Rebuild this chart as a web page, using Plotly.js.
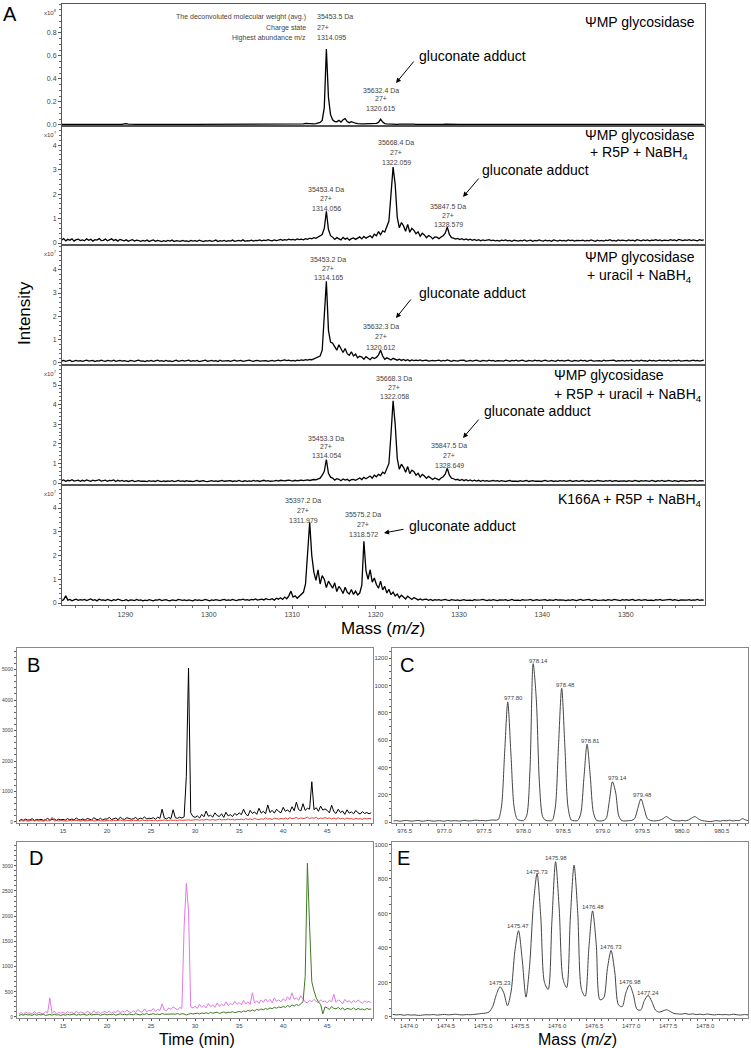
<!DOCTYPE html>
<html><head><meta charset="utf-8">
<script src="https://cdn.plot.ly/plotly-3.0.1.min.js"></script>
<style>html,body{margin:0;padding:0;background:#fff}#chart{width:751px;height:1048px}</style>
</head><body><div id="chart"></div>
<script>
// ---------- DATA ----------
// Panel A: ESI-MS spectra, m/z sampling grid
const massStartA = 1282.35, massStepA = 0.25;
// intensities in units of 1e5 counts
const specWT = [
5,6,4,5,7,5,4,6,5,4, 5,4,6,5,5,4,6,5,4,5, 6,5,4,5,6,5,5,4,6,5, 9,12,8,6,5,4,5,6,5,4,
5,6,4,5,5,6,4,5,6,5, 4,5,6,5,4,5,5,6,4,5, 5,4,6,5,5,4,5,6,5,4, 6,9,7,5,4,5,6,5,4,5,
5,6,4,5,6,5,4,5,6,5, 4,5,6,5,5,4,6,5,4,5, 5,6,5,4,6,5,5,6,7,6, 6,7,8,7,6,8,10,14,12,9,
8,10,12,16,22,40,150,660,240,90, 45,30,28,40,25,45,55,30,20,28, 18,15,12,14,10,9,10,8,9,8,
10,14,22,50,25,12,10,8,9,7, 8,6,7,9,6,8,7,5,6,7, 6,5,7,6,5,4,6,5,6,5, 5,6,4,5,7,6,5,4,6,5,
4,5,6,5,4,6,5,5,4,6, 5,7,6,5,4,5,6,5,4,5, 6,5,4,6,5,5,4,6,5,4, 5,6,5,4,6,7,5,4,5,6,
4,5,6,5,4,5,6,4,5,5, 6,5,4,5,6,5,5,4,6,5, 5,4,6,5,4,5,6,5,4,5, 4,6,5,5,4,6,5,4,5,6,
5,4,5,6,5,4,6,5,5,4, 6,5,4,5,6,5,4,6,5,5, 4,5,6,5,4,6,5,5,4,5, 5,6,4,5,5,6,4,5,5];
const specR5P = [
12,18,9,15,11,17,8,14,16,10, 13,9,17,11,15,8,14,12,18,10, 11,16,9,13,17,10,14,8,15,12, 9,13,7,11,14,8,12,10,7,11,
8,12,6,10,13,7,11,9,6,10, 7,11,8,12,6,10,9,7,11,8, 9,6,11,8,10,7,12,8,6,10, 8,11,7,9,12,6,10,8,11,7,
10,8,12,7,9,11,8,13,7,10, 9,12,8,11,10,13,9,12,10,14, 11,9,13,10,12,15,11,14,12,16, 13,15,12,17,14,16,13,18,15,20,
17,22,19,25,28,35,60,130,55,30, 24,15,22,19,13,23,16,20,12,18, 21,15,19,25,17,27,20,24,30,22,
36,30,47,34,50,45,64,90,200,310, 240,105,62,84,70,48,76,44,60,52, 38,46,28,40,33,22,31,26,17,25,
24,18,25,30,40,65,35,22,20,16, 19,14,18,13,17,12,16,11,15,10, 14,9,13,10,12,14,10,12,9,11,
8,12,10,13,9,11,7,12,10,8, 11,9,13,8,10,12,7,11,9,13, 10,8,12,9,11,7,13,10,8,12, 9,11,8,13,10,12,8,11,9,10,
12,8,11,9,13,10,7,12,9,11, 8,12,10,14,9,11,8,13,10,12, 11,9,13,10,12,8,14,11,9,13, 10,13,9,12,11,14,10,13,9,12,
12,10,14,11,13,9,15,12,10,13, 11,14,10,13,12,9,14,11,13];
const specUracil = [
8,11,7,10,12,6,9,11,8,10, 7,10,12,8,9,11,6,10,8,12, 9,7,11,10,8,12,7,9,11,8, 10,8,6,11,9,7,10,12,8,9,
6,10,8,11,7,9,12,8,10,7, 11,8,9,6,10,12,7,9,11,8, 9,12,7,10,8,11,6,9,10,12, 7,9,11,8,10,6,12,8,9,11,
10,7,9,12,8,10,11,7,9,8, 12,9,7,10,11,8,9,12,10,7, 9,11,8,10,12,9,11,13,10,12, 9,11,8,12,10,13,11,14,12,15,
14,18,20,25,30,55,200,350,140,90, 85,70,55,78,60,45,62,40,33,48, 30,38,22,29,25,16,27,21,14,24,
19,24,35,55,30,16,22,18,13,20, 17,12,16,11,15,10,14,9,13,10, 12,10,13,9,11,12,8,10,11,9,
10,12,8,11,9,13,10,7,11,9, 8,11,10,12,7,9,11,8,10,12, 9,7,11,10,8,12,9,11,7,10,
11,9,8,12,10,7,11,9,12,8, 10,12,9,7,11,10,8,12,9,11, 7,10,12,9,8,11,10,7,12,9, 11,8,10,12,9,7,11,10,8,12,
9,11,7,10,12,8,9,11,10,7, 12,9,10,8,11,12,7,10,9,11, 8,11,9,12,7,10,11,8,12,9, 10,7,12,9,11,8,10,12,9,11,
9,12,8,10,11,9,12,8,10,11, 11,8,10,12,9,11,8,10,12];
const specR5PUracil = [
12,16,9,14,11,17,10,13,15,9, 14,10,16,12,9,15,11,13,17,10, 11,15,9,13,12,16,8,14,10,13, 9,12,8,11,13,7,10,12,9,11,
10,7,12,9,11,8,13,10,7,11, 8,11,9,12,7,10,13,9,11,8, 12,9,10,7,11,13,8,10,12,9, 7,10,12,9,11,8,10,13,9,11,
10,12,8,11,9,13,10,8,12,9, 11,9,13,10,12,8,11,14,10,12, 9,12,11,13,10,14,12,11,13,15, 12,10,14,11,13,15,12,14,16,13,
15,18,16,22,25,40,60,120,50,30, 25,15,22,19,12,21,15,19,11,17, 19,14,21,26,18,29,22,27,36,25,
40,32,44,38,55,48,72,100,250,420, 300,125,70,96,80,55,84,48,66,58, 40,50,30,44,36,24,34,28,18,26,
22,16,26,32,45,75,40,25,22,16, 19,13,18,12,17,11,16,10,15,10, 14,9,13,10,12,9,11,13,10,12,
9,12,10,8,11,13,9,11,10,8, 12,9,11,13,8,10,12,9,11,10, 8,11,13,9,10,12,8,11,9,12, 10,12,9,11,13,8,10,12,9,11,
13,9,11,8,12,10,9,13,11,10, 9,12,10,13,8,11,12,9,10,13, 11,8,12,10,9,13,11,8,12,10, 12,10,9,13,11,8,12,10,13,9,
10,13,11,9,12,10,8,12,11,13, 9,12,10,11,13,9,12,10,11];
const specK166A = [
10,14,30,12,15,9,13,16,11,14, 12,15,10,13,17,11,14,9,16,12, 13,10,15,12,9,14,11,16,12,10, 11,14,9,13,12,10,15,11,13,9,
12,10,14,11,9,13,12,15,10,12, 14,11,9,13,12,10,15,12,11,13, 10,13,12,9,14,11,13,10,12,15, 12,9,13,11,14,12,10,13,15,11,
13,11,15,12,10,14,13,16,12,14, 11,15,13,17,12,14,16,13,18,15, 14,18,12,20,16,22,15,25,18,30, 50,25,30,20,28,35,45,80,220,340,
200,130,95,140,80,115,100,65,92,78, 62,85,48,70,58,40,66,45,38,57, 36,50,34,42,75,260,135,100,140,88,
105,78,62,92,55,70,42,58,35,46, 30,38,22,33,26,17,29,20,15,23, 18,13,17,12,15,16,11,15,10,14,
12,14,11,13,15,12,10,14,12,11, 13,10,12,14,11,13,12,10,14,12, 11,13,15,12,10,13,11,14,12,10,
13,11,12,14,10,12,15,11,13,12, 10,14,12,11,13,15,10,12,14,11, 12,11,14,10,13,12,11,15,12,13, 14,12,10,13,11,14,12,10,13,15,
11,13,12,15,10,12,14,11,13,12, 13,10,14,12,11,15,13,12,10,14, 12,14,11,13,15,10,12,14,11,13, 14,11,13,12,10,14,12,15,11,12,
10,13,15,11,14,12,10,13,12,14, 12,14,11,13,12,15,11,13,12];

// Panels B and D: extracted ion chromatograms, time grid (min)
const timeStart = 10, timeStep = 0.25;
const eicBlackB = [
40,80,55,95,60,70,110,50,85,65,90,55,75,120,60,80,100,55,90,70,
85,60,110,75,95,65,130,80,70,100,60,115,85,70,140,90,75,120,65,100,
95,150,80,110,130,70,160,100,85,140,120,90,110,150,80,130,100,170,95,125,
110,140,90,160,120,420,130,100,150,110,400,140,120,160,130,170,1500,5050,300,180,
150,200,130,250,170,360,190,220,160,300,210,180,270,150,320,200,240,180,280,220,
300,240,420,260,200,380,280,330,250,450,290,350,270,560,310,380,290,420,340,300,
480,350,400,320,500,370,650,410,360,600,380,450,420,1320,400,470,350,520,390,430,
380,300,550,340,280,420,310,360,250,400,290,330,270,380,300,260,340,280,310,270,300];
const eicRedB = [
20,45,30,55,25,40,60,35,50,30,45,25,55,35,40,150,30,50,35,45,
40,55,30,50,35,60,40,45,30,55,35,50,40,60,30,45,55,35,50,40,
45,60,35,55,40,50,65,45,35,55,50,40,60,45,55,35,65,50,40,60,
55,45,65,40,60,50,70,45,55,65,50,60,45,70,55,60,80,70,55,60,
65,80,55,75,60,90,70,65,85,60,75,95,65,80,70,100,75,85,65,90,
80,95,70,110,85,100,75,120,90,80,105,85,130,95,110,80,125,100,90,115,
100,130,95,140,110,120,150,105,135,115,125,160,110,140,120,150,100,130,115,145,
110,135,100,125,95,140,105,120,90,130,100,115,85,125,95,110,90,120,100,115,105];
const eicMagentaD = [
60,90,50,100,70,85,55,110,65,95,75,60,105,80,380,70,120,60,90,75,
100,65,110,80,95,60,120,75,100,85,70,115,90,65,130,80,105,70,95,110,
85,120,75,105,90,130,80,115,95,140,100,85,125,90,150,110,95,160,105,130,
120,170,110,150,130,260,140,120,180,150,200,160,140,190,170,1800,2650,2100,200,180,
210,170,250,190,230,180,270,200,240,190,280,210,260,220,300,230,270,240,310,250,
290,240,330,260,300,250,480,280,320,270,340,290,360,300,350,280,380,310,340,300,
360,320,400,340,480,350,380,330,420,360,300,280,330,300,350,310,290,340,300,320,
280,330,300,450,290,340,310,260,350,300,320,280,330,290,340,300,270,320,290,310,280];
const eicGreenD = [
30,50,35,55,40,45,30,60,35,50,40,55,30,45,50,35,55,40,45,30,
50,35,55,40,45,60,35,50,40,55,45,35,60,40,50,45,55,35,50,60,
40,55,45,60,35,50,65,45,55,40,60,50,45,65,55,40,60,50,70,45,
55,65,50,60,45,70,55,60,50,65,60,55,70,50,65,60,40,55,70,60,
65,75,60,80,70,85,65,90,75,80,95,70,85,100,80,95,90,105,85,100,
110,95,120,105,130,115,140,120,150,135,160,145,170,150,180,165,190,175,200,185,
210,190,230,200,240,215,250,225,260,300,800,3050,1800,700,520,380,300,250,60,200,
180,150,210,170,160,190,150,180,140,170,160,150,180,140,170,150,160,140,170,150,160];

// Panel C: isotope envelope
const mzStartC = 976.36, mzStepC = 0.04;
const isoC = [
8,10,6,9,12,8,7,10,11,6, 9,12,8,7,10,9,6,11,8,10, 9,7,12,10,8,11,14,10,12,9,
12,15,14,18,110,500,880,500,110,20, 12,10,50,380,1160,900,280,40,12,10,
12,110,560,980,560,110,15,10,10,60, 320,570,340,70,12,8,10,25,150,295,
220,45,10,8,10,12,25,100,170,100, 25,12,8,10,14,25,40,25,12,10,
8,12,9,15,30,40,25,12,8,5, 3,8,10,6,12,9,14,8,12,10, 25,15,10];
const isoCLabels = ['977.80','978.14','978.48','978.81','979.14','979.48'];

// Panel E: isotope envelope
const mzStartE = 1473.78, mzStepE = 0.05;
const isoE = [
15,12,14,10,13,11,12,9,11,13, 12,14,11,13,15,12,14,16,13,12, 14,13,15,17,20,22,28,60,130,175,
140,65,150,380,500,330,115,300,650,830, 580,200,160,550,900,620,220,170,580,880,
600,160,120,400,615,420,100,110,280,385, 260,70,60,140,185,130,45,40,95,125,
90,40,28,35,42,32,20,18,16,20, 15,18,14,16,13,17,14,12,15,13, 14,12,16,13,11,14,12];
const isoELabels = ['1475.23','1475.47','1475.73','1475.98','1476.48','1476.73','1476.98','1477.24'];

// ---------- LAYOUT HELPERS ----------
const W = 751, H = 1048;
const FONT = 'Liberation Sans, Arial, Helvetica, sans-serif';
const px = x => x / W, py = y => 1 - y / H;

function ax(o) {
  return Object.assign({
    showline: true, mirror: true, linecolor: '#555', linewidth: 1,
    zeroline: false, showgrid: false, ticks: 'outside', ticklen: 3, tickwidth: 1,
    tickcolor: '#555', tickfont: {family: FONT, size: 7, color: '#444'},
    fixedrange: true, automargin: false
  }, o);
}
const minor = d => ({ticks: 'outside', ticklen: 2, dtick: d, tick0: 0, tickcolor: '#666'});
const smallX = {family: FONT, size: 6, color: '#444'};
const smallY = {family: FONT, size: 5, color: '#444'};

const traces = [];
function addLine(yArr, x0, dx, scale, xa, ya, color, width, shape) {
  traces.push({
    type: 'scatter', mode: 'lines',
    x: yArr.map((_, i) => x0 + i * dx),
    y: yArr.map(v => v * scale),
    xaxis: xa, yaxis: ya,
    line: {color: color, width: width, shape: shape || 'linear', smoothing: 0.8},
    hoverinfo: 'skip'
  });
}
addLine(specWT, massStartA, massStepA, 0.001, 'x', 'y', '#000', 1.3);
addLine(specR5P, massStartA, massStepA, 0.01, 'x2', 'y2', '#000', 1.3);
addLine(specUracil, massStartA, massStepA, 0.01, 'x3', 'y3', '#000', 1.3);
addLine(specR5PUracil, massStartA, massStepA, 0.01, 'x4', 'y4', '#000', 1.3);
addLine(specK166A, massStartA, massStepA, 0.01, 'x5', 'y5', '#000', 1.3);
addLine(eicBlackB, timeStart, timeStep, 1, 'x6', 'y6', '#000', 1);
addLine(eicRedB, timeStart, timeStep, 1, 'x6', 'y6', '#e8423a', 1);
addLine(isoC, mzStartC, mzStepC, 1, 'x7', 'y7', '#444', 1, 'spline');
addLine(eicMagentaD, timeStart, timeStep, 1, 'x8', 'y8', '#e07ae6', 1);
addLine(eicGreenD, timeStart, timeStep, 1, 'x8', 'y8', '#3f7a22', 1);
addLine(isoE, mzStartE, mzStepE, 1, 'x9', 'y9', '#444', 1, 'spline');

const AX = [px(62), px(705)];
const rangeA = [1282.4, 1359.5];
const layout = {
  width: W, height: H, margin: {l: 0, r: 0, t: 0, b: 0},
  paper_bgcolor: '#fff', plot_bgcolor: '#fff', showlegend: false,
  font: {family: FONT},
  xaxis: ax({domain: AX, range: rangeA, anchor: 'y', showticklabels: false, ticks: ''}),
  yaxis: ax({domain: [py(126), py(4)], range: [-0.009, 1.052], anchor: 'x', tickvals: [0, 0.2, 0.4, 0.6, 0.8], tickformat: '.1f', minor: minor(0.05)}),
  xaxis2: ax({domain: AX, range: rangeA, anchor: 'y2', showticklabels: false, ticks: ''}),
  yaxis2: ax({domain: [py(245), py(126)], range: [-0.08, 4.78], anchor: 'x2', tickvals: [0, 1, 2, 3, 4], minor: minor(0.2)}),
  xaxis3: ax({domain: AX, range: rangeA, anchor: 'y3', showticklabels: false, ticks: ''}),
  yaxis3: ax({domain: [py(365), py(245)], range: [-0.086, 5.06], anchor: 'x3', tickvals: [0, 1, 2, 3, 4], minor: minor(0.2)}),
  xaxis4: ax({domain: AX, range: rangeA, anchor: 'y4', showticklabels: false, ticks: ''}),
  yaxis4: ax({domain: [py(485), py(365)], range: [-0.1, 6.02], anchor: 'x4', tickvals: [0, 1, 2, 3, 4, 5], minor: minor(0.2)}),
  xaxis5: ax({domain: AX, range: rangeA, anchor: 'y5', tickvals: [1290, 1300, 1310, 1320, 1330, 1340, 1350], minor: minor(2)}),
  yaxis5: ax({domain: [py(605), py(485)], range: [-0.084, 4.97], anchor: 'x5', tickvals: [0, 1, 2, 3, 4], minor: minor(0.2)}),
  xaxis6: ax({domain: [px(17), px(373)], range: [9.77, 50.2], anchor: 'y6', linecolor: '#888', ticklen: 2, tickfont: smallX, tickvals: [15, 20, 25, 30, 35, 40, 45], minor: minor(1)}),
  yaxis6: ax({domain: [py(823), py(648)], range: [-33, 5705], anchor: 'x6', linecolor: '#888', ticklen: 2, tickfont: smallY, dtick: 1000, tick0: 0, minor: minor(200)}),
  xaxis7: ax({domain: [px(392), px(748)], range: [976.34, 980.83], anchor: 'y7', linecolor: '#888', ticklen: 2, tickfont: smallX, tickvals: [976.5, 977, 977.5, 978, 978.5, 979, 979.5, 980, 980.5], tickformat: '.1f', minor: minor(0.1)}),
  yaxis7: ax({domain: [py(823), py(648)], range: [-7, 1275], anchor: 'x7', linecolor: '#888', ticklen: 2, tickfont: smallX, dtick: 200, tick0: 0, minor: minor(50)}),
  xaxis8: ax({domain: [px(17), px(373)], range: [9.77, 50.2], anchor: 'y8', linecolor: '#888', ticklen: 2, tickfont: smallX, tickvals: [15, 20, 25, 30, 35, 40, 45], minor: minor(1)}),
  yaxis8: ax({domain: [py(1018), py(842)], range: [-20, 3472], anchor: 'x8', linecolor: '#888', ticklen: 2, tickfont: smallY, dtick: 500, tick0: 0, minor: minor(100)}),
  xaxis9: ax({domain: [px(392), px(748)], range: [1473.77, 1478.58], anchor: 'y9', linecolor: '#888', ticklen: 2, tickfont: smallX, tickvals: [1474, 1474.5, 1475, 1475.5, 1476, 1476.5, 1477, 1477.5, 1478], tickformat: '.1f', minor: minor(0.1)}),
  yaxis9: ax({domain: [py(1018), py(842)], range: [-6, 1014], anchor: 'x9', linecolor: '#888', ticklen: 2, tickfont: smallX, dtick: 200, tick0: 0, minor: minor(50)}),
  annotations: []
};

const ann = layout.annotations;
function txt(t, x, y, size, anchor, color, angle) {
  ann.push({text: t, x: px(x), y: py(y), xref: 'paper', yref: 'paper', showarrow: false,
    xanchor: anchor || 'center', yanchor: 'middle', textangle: angle || 0,
    font: {family: FONT, size: size, color: color || '#000'}});
}
function arrow(x1, y1, x2, y2) {
  ann.push({text: '', x: px(x2), y: py(y2), xref: 'paper', yref: 'paper', showarrow: true,
    ax: x1 - x2, ay: y1 - y2, arrowhead: 2, arrowsize: 1, arrowwidth: 1, arrowcolor: '#000', standoff: 0});
}
function peak(lines, x, y0, gap) {
  lines.forEach((l, k) => txt(l, x, y0 + k * gap, 7, 'center', '#444'));
}

// panel letters & axis titles
txt('A', 10, 14, 20); txt('B', 33, 665, 20); txt('C', 407, 665, 20);
txt('D', 36, 858, 20); txt('E', 403, 858, 20);
txt('Intensity', 24, 313, 17, 'center', '#000', -90);
txt('Mass (<i>m/z</i>)', 383, 628, 17);
txt('Time (min)', 197, 1039, 16);
txt('Mass (<i>m/z</i>)', 577, 1039, 16);

// multiplier labels
txt('x10<sup>8</sup>', 50, 12, 6, 'center', '#444');
txt('x10<sup>7</sup>', 50, 134, 6, 'center', '#444');
txt('x10<sup>7</sup>', 50, 253, 6, 'center', '#444');
txt('x10<sup>7</sup>', 50, 373, 6, 'center', '#444');
txt('x10<sup>7</sup>', 50, 493, 6, 'center', '#444');

// panel 1
txt('The deconvoluted molecular weight (avg.)', 308, 17, 7, 'right', '#444');
txt('Charge state', 308, 28, 7, 'right', '#444');
txt('Highest abundance m/z', 308, 38, 7, 'right', '#444');
txt('35453.5 Da', 315, 17, 7, 'left', '#444');
txt('27+', 315, 28, 7, 'left', '#444');
txt('1314.095', 315, 38, 7, 'left', '#444');
peak(['35632.4 Da', '27+', '1320.615'], 381, 90, 9);
txt('gluconate adduct', 417, 56, 14, 'left');
arrow(415, 60, 396, 83);
txt('ΨMP glycosidase', 583, 22, 14, 'left');

// panel 2
peak(['35668.4 Da', '27+', '1322.059'], 396, 142, 10);
peak(['35453.4 Da', '27+', '1314.056'], 326, 189, 9.5);
peak(['35847.5 Da', '27+', '1328.579'], 448, 207, 8.5);
txt('gluconate adduct', 480, 170, 14, 'left');
arrow(480, 177, 463, 197);
txt('ΨMP glycosidase', 583, 135, 14, 'left');
txt('+ R5P + NaBH<sub>4</sub>', 588, 153, 14, 'left');

// panel 3
peak(['35453.2 Da', '27+', '1314.165'], 328, 259, 9);
peak(['35632.3 Da', '27+', '1320.612'], 381, 326, 10.5);
txt('gluconate adduct', 417, 293, 14, 'left');
arrow(412, 298, 396, 318);
txt('ΨMP glycosidase', 583, 257, 14, 'left');
txt('+ uracil + NaBH<sub>4</sub>', 585, 276, 14, 'left');

// panel 4
peak(['35668.3 Da', '27+', '1322.058'], 394, 378, 9.5);
peak(['35453.3 Da', '27+', '1314.054'], 326, 438, 8.5);
peak(['35847.5 Da', '27+', '1328.649'], 449, 446, 9.5);
txt('gluconate adduct', 482, 411, 14, 'left');
arrow(480, 418, 463, 438);
txt('ΨMP glycosidase', 552, 375, 14, 'left');
txt('+ R5P + uracil + NaBH<sub>4</sub>', 552, 395, 14, 'left');

// panel 5
peak(['35397.2 Da', '27+', '1311.979'], 303, 500, 10);
peak(['35575.2 Da', '27+', '1318.572'], 363, 515, 9.5);
txt('gluconate adduct', 407, 526, 14, 'left');
arrow(405, 529, 384, 533);
txt('K166A + R5P + NaBH<sub>4</sub>', 556, 500, 14, 'left');

// panel C peak labels
const cPos = [[513, 698], [538, 661], [565, 685], [590, 741], [617, 778], [642, 795]];
isoCLabels.forEach((l, k) => txt(l, cPos[k][0], cPos[k][1], 6, 'center', '#444'));
// panel E peak labels
const ePos = [[500, 983], [518, 926], [537, 872], [556, 858], [593, 907], [611, 947], [630, 982], [648, 993]];
isoELabels.forEach((l, k) => txt(l, ePos[k][0], ePos[k][1], 6, 'center', '#444'));

Plotly.newPlot('chart', traces, layout, {displayModeBar: false, staticPlot: true});
</script></body></html>
